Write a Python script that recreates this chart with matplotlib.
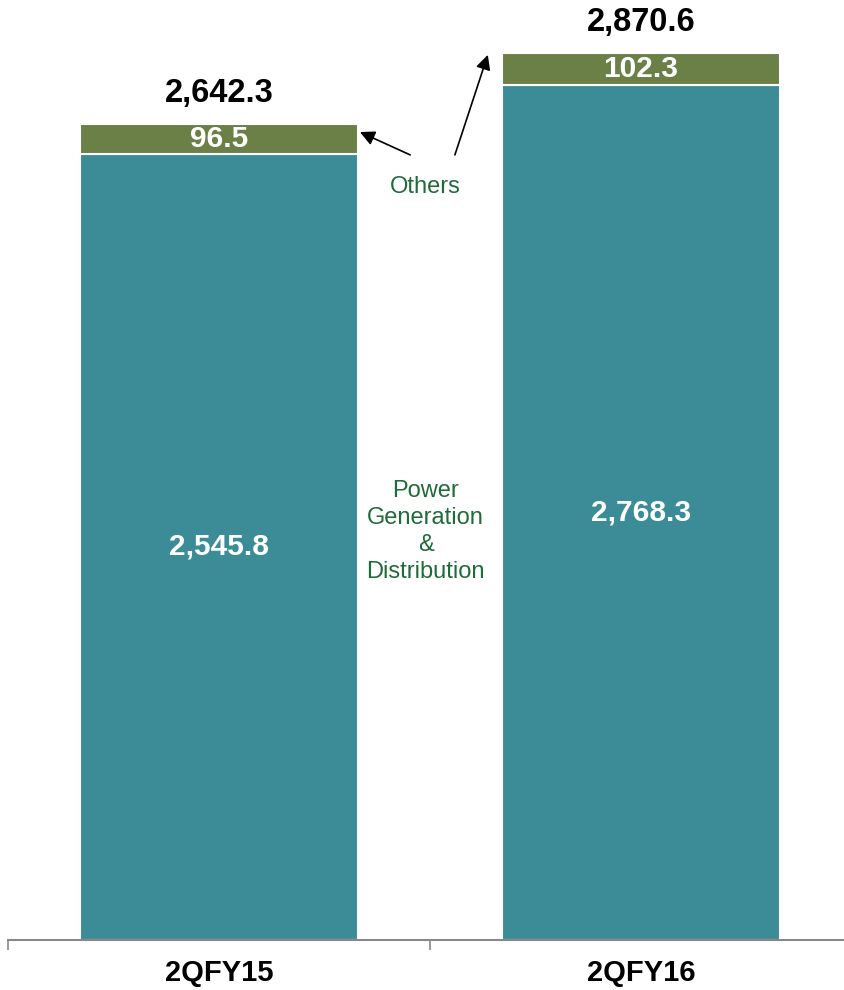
import matplotlib
matplotlib.use("Agg")
import matplotlib.pyplot as plt

plt.rcParams['font.family'] = ['Liberation Sans', 'DejaVu Sans']

categories = ["2QFY15", "2QFY16"]
power_gen = [2545.8, 2768.3]
others = [96.5, 102.3]
totals = [2642.3, 2870.6]

teal = "#3C8C98"
green = "#6A8046"
label_green = "#1F6B3A"

W, H = 844, 990
fig = plt.figure(figsize=(W / 100, H / 100), dpi=100)
ax = fig.add_axes([8 / W, 50 / H, 844 / W, 940 / H])

x = list(range(len(categories)))
bw = 0.66
ax.bar(x, power_gen, width=bw, color=teal, edgecolor="white", linewidth=1.5)
ax.bar(x, others, width=bw, bottom=power_gen, color=green, edgecolor="white", linewidth=1.5)

ax.set_xlim(-0.5, 1.5)
ax.set_ylim(0, 940 / 0.30885)

for i in x:
    ax.text(i, power_gen[i] / 2, f"{power_gen[i]:,.1f}", ha="center", va="center",
            color="white", fontsize=21.5, fontweight="bold")
    ax.text(i, power_gen[i] + others[i] / 2, f"{others[i]:,.1f}", ha="center", va="center",
            color="white", fontsize=21.5, fontweight="bold")
    ax.annotate(f"{totals[i]:,.1f}", xy=(i, totals[i]), xytext=(0, 22),
                textcoords="offset points", ha="center", va="center",
                color="black", fontsize=23.5, fontweight="bold")

# middle labels
ax.text(0.49, power_gen[0] * 0.5 + 50, "Power\nGeneration\n&\nDistribution", ha="center",
        va="center", color=label_green, fontsize=17, linespacing=1.3)
ax.text(0.49, 2438, "Others", ha="center", va="center", color=label_green, fontsize=17)
ax.annotate("", xy=(0.334, 2616), xytext=(0.453, 2542),
            arrowprops=dict(arrowstyle="-|>", color="black", lw=1.2, mutation_scale=22,
                            shrinkA=0, shrinkB=0))
ax.annotate("", xy=(0.637, 2866), xytext=(0.559, 2542),
            arrowprops=dict(arrowstyle="-|>", color="black", lw=1.2, mutation_scale=22,
                            shrinkA=0, shrinkB=0))

for s in ["top", "right", "left"]:
    ax.spines[s].set_visible(False)
ax.spines["bottom"].set_color("#888888")
ax.spines["bottom"].set_linewidth(1.5)
ax.set_yticks([])
ax.set_xticks(x)
ax.set_xticklabels(categories, fontsize=21, fontweight="bold")
ax.tick_params(axis="x", which="major", length=0, pad=14)
ax.set_xticks([-0.5, 0.5, 1.5], minor=True)
ax.tick_params(axis="x", which="minor", length=7, width=1.2, color="#888888", direction="out")

fig.savefig("out.png", dpi=100)
